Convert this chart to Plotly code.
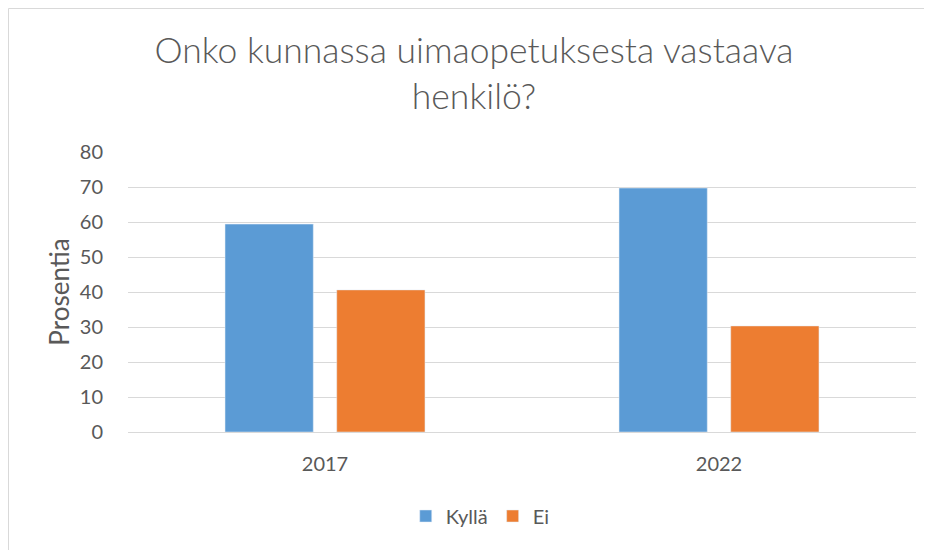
import plotly.graph_objects as go

# data
vuodet = ['2017', '2022']
kylla = [59.4, 69.7]
ei = [40.6, 30.3]
y_ticks = [0, 10, 20, 30, 40, 50, 60, 70, 80]

teksti = '#595959'
fontti = 'Lato'

fig = go.Figure()
fig.add_trace(go.Bar(x=vuodet, y=kylla, name='Kyllä', marker_color='#5B9BD5'))
fig.add_trace(go.Bar(x=vuodet, y=ei, name='Ei', marker_color='#ED7D31'))

# plot area: x 120..908, y 144..424 in figure pixels
fig.update_layout(
    width=932, height=550,
    margin=dict(l=120, r=24, t=144, b=126),
    paper_bgcolor='white', plot_bgcolor='white',
    font=dict(family=fontti, color=teksti, size=20),
    barmode='group', bargap=0.433, bargroupgap=0.21,
    title=dict(
        text='Onko kunnassa uimaopetuksesta vastaava<br>henkilö?',
        x=0.5, xanchor='center', xref='container',
        y=1 - 55 / 550, yanchor='top', yref='container',
        font=dict(family=fontti, size=35.5, color=teksti, weight=300),
    ),
    showlegend=True,
    legend=dict(orientation='h', x=0.447, xanchor='center', y=-0.30, yanchor='middle',
                font=dict(size=20, color=teksti), itemwidth=30, traceorder='normal'),
    xaxis=dict(showgrid=False, showline=True, linecolor='#D9D9D9', linewidth=1,
               ticks='outside', ticklen=14, tickcolor='rgba(0,0,0,0)'),
    yaxis=dict(range=[0, 80], tickvals=y_ticks, showgrid=True, gridcolor='#D9D9D9',
               gridwidth=1, zeroline=False, showline=False,
               ticks='outside', ticklen=20, tickcolor='rgba(0,0,0,0)',
               title=dict(text='Prosentia', standoff=2, font=dict(size=26, color=teksti))),
    shapes=[dict(type='rect', xref='paper', yref='paper',
                 x0=(0.5 - 120) / 788, x1=(940 - 120) / 788,
                 y0=(424 - 560) / 280, y1=(424 - 0.5) / 280,
                 line=dict(color='#D9D9D9', width=1), fillcolor='rgba(0,0,0,0)', layer='below')],
)

fig.write_html("out.html")
